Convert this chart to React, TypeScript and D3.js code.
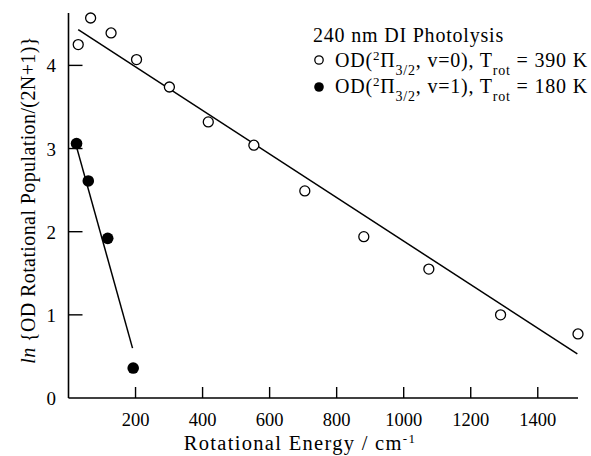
import React from "react";
import * as d3 from "d3";

// OD(2Π3/2, v=0) rotational level energies (cm^-1) and ln[population/(2N+1)]
const v0Energy = [29, 66, 127, 203, 301, 417, 553, 705, 881, 1075, 1289, 1520];
const v0LnPop = [4.25, 4.57, 4.39, 4.07, 3.74, 3.32, 3.04, 2.49, 1.94, 1.55, 1.0, 0.77];

// OD(2Π3/2, v=1)
const v1Energy = [24, 59, 117, 193];
const v1LnPop = [3.06, 2.61, 1.92, 0.36];

// Boltzmann fit lines (endpoints in energy, ln pop)
const v0FitE = [29, 1518];
const v0FitY = [4.43, 0.53];
const v1FitE = [24, 191];
const v1FitY = [3.02, 0.6];

const xTicks = [200, 400, 600, 800, 1000, 1200, 1400];
const yTicks = [0, 1, 2, 3, 4];

const W = 591;
const H = 456;
const FONT = "Liberation Serif, DejaVu Serif, serif";

export default function App() {
  const x = d3.scaleLinear().domain([0, 1520]).range([68.5, 578]);
  const y = d3.scaleLinear().domain([0, 4.63]).range([398, 13]);
  const line = d3
    .line<[number, number]>()
    .x((d) => x(d[0]))
    .y((d) => y(d[1]));

  const v0Fit: [number, number][] = v0FitE.map((e, i) => [e, v0FitY[i]]);
  const v1Fit: [number, number][] = v1FitE.map((e, i) => [e, v1FitY[i]]);

  return (
    <svg
      width={W}
      height={H}
      style={{ position: "absolute", left: 0, top: 0, background: "#fff", fontFamily: FONT }}
    >
      <rect width={W} height={H} fill="#fff" />
      {/* axes */}
      <line x1={x(0)} x2={x(0)} y1={y(0)} y2={y(4.63)} stroke="#000" strokeWidth={1.6} />
      <line x1={x(0)} x2={x(1520)} y1={y(0)} y2={y(0)} stroke="#000" strokeWidth={1.6} />
      {xTicks.map((t) => (
        <g key={"xt" + t}>
          <line x1={x(t)} x2={x(t)} y1={y(0)} y2={y(0) - 11} stroke="#000" strokeWidth={1.4} />
          <text x={x(t)} y={426} textAnchor="middle" fontSize={18.5}>
            {t}
          </text>
        </g>
      ))}
      {yTicks.map((t) => (
        <g key={"yt" + t}>
          {t > 0 && (
            <line x1={x(0)} x2={x(0) + 14} y1={y(t)} y2={y(t)} stroke="#000" strokeWidth={1.4} />
          )}
          <text x={56} y={y(t) + 7} textAnchor="end" fontSize={19}>
            {t}
          </text>
        </g>
      ))}
      {/* axis titles */}
      <text x={300} y={450} textAnchor="middle" fontSize={20.5} letterSpacing={1.3}>
        Rotational Energy /  cm
        <tspan baselineShift="super" fontSize={13}>-1</tspan>
      </text>
      <text transform="translate(35,200) rotate(-90)" textAnchor="middle" fontSize={20} letterSpacing={0.4}>
        <tspan fontStyle="italic">ln</tspan> {"{OD Rotational Population/(2N+1)}"}
      </text>

      {/* fits */}
      <path d={line(v0Fit) ?? ""} fill="none" stroke="#000" strokeWidth={1.5} />
      <path d={line(v1Fit) ?? ""} fill="none" stroke="#000" strokeWidth={1.5} />

      {/* data */}
      {v0Energy.map((e, i) => (
        <circle key={"o" + i} cx={x(e)} cy={y(v0LnPop[i])} r={5} fill="#fff" stroke="#000" strokeWidth={1.3} />
      ))}
      {v1Energy.map((e, i) => (
        <circle key={"f" + i} cx={x(e)} cy={y(v1LnPop[i])} r={5.8} fill="#000" />
      ))}

      {/* legend */}
      <g fontSize={20} letterSpacing={0.8}>
        <text x={313} y={42}>240 nm DI Photolysis</text>
        <circle cx={319} cy={60} r={4.2} fill="#fff" stroke="#000" strokeWidth={1.3} />
        <text x={335} y={67}>
          OD(<tspan baselineShift="super" fontSize={13}>2</tspan>Π
          <tspan baselineShift="sub" fontSize={14}>3/2</tspan>, v=0), T
          <tspan baselineShift="sub" fontSize={14}>rot</tspan> = 390 K
        </text>
        <circle cx={319} cy={87} r={4.8} fill="#000" />
        <text x={335} y={93}>
          OD(<tspan baselineShift="super" fontSize={13}>2</tspan>Π
          <tspan baselineShift="sub" fontSize={14}>3/2</tspan>, v=1), T
          <tspan baselineShift="sub" fontSize={14}>rot</tspan> = 180 K
        </text>
      </g>
    </svg>
  );
}
